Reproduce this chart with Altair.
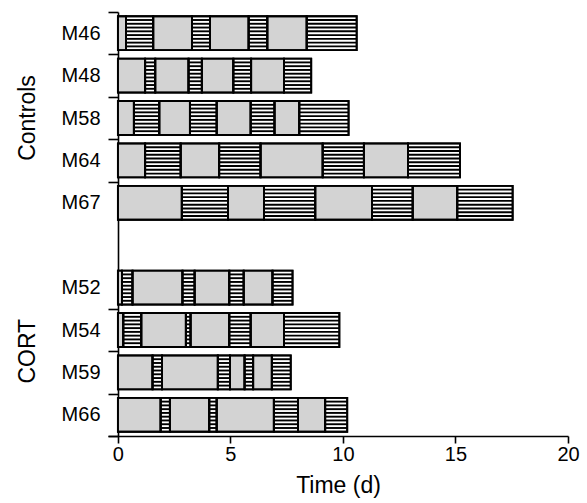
import json
import altair as alt
import pandas as pd

# ---------------- data ----------------
control_ids = ["M46", "M48", "M58", "M64", "M67"]
cort_ids = ["M52", "M54", "M59", "M66"]
group_names = ["Controls", "CORT"]

# end points (days) of consecutive segments; segments alternate gray / hatched,
# the first segment of every animal starts at day 0 and is gray
m46 = [0.36, 1.57, 3.29, 4.09, 5.81, 6.64, 8.39, 10.61]
m48 = [1.21, 1.66, 3.14, 3.73, 5.13, 5.92, 7.38, 8.59]
m58 = [0.71, 1.84, 3.20, 4.39, 5.90, 6.96, 8.06, 10.25]
m64 = [1.21, 2.79, 4.50, 6.34, 9.10, 10.93, 12.89, 15.20]
m67 = [2.84, 4.89, 6.49, 8.77, 11.29, 13.10, 15.08, 17.54]
m52 = [0.18, 0.65, 2.87, 3.41, 4.95, 5.59, 6.87, 7.76]
m54 = [0.24, 1.04, 3.02, 3.23, 4.95, 5.90, 7.38, 9.84]
m59 = [1.54, 1.96, 4.44, 4.98, 5.63, 6.01, 6.84, 7.68]
m66 = [1.90, 2.31, 4.06, 4.39, 6.93, 8.00, 9.21, 10.19]

x_ticks = [0, 5, 10, 15, 20]

boundaries = {"M46": m46, "M48": m48, "M58": m58, "M64": m64, "M67": m67,
              "M52": m52, "M54": m54, "M59": m59, "M66": m66}

# ---------------- layout constants ----------------
FONT = "Liberation Sans"
BAR_HALF = 0.40      # half bar thickness in row units
N_GAPS = 9           # white gaps of the hatching
GRAY = "#d3d3d3"

row_order = control_ids + [""] + cort_ids
n_rows = len(row_order)

seg_rows = []
for idx, name in enumerate(row_order):
    if not name:
        continue
    start = 0.0
    for j, end in enumerate(boundaries[name]):
        seg_rows.append(dict(animal=name, center=idx + 0.5, start=start, end=end,
                             kind="gray" if j % 2 == 0 else "hatch"))
        start = end
segs = pd.DataFrame(seg_rows)
segs["top"] = segs["center"] - BAR_HALF
segs["bottom"] = segs["center"] + BAR_HALF

hatch = segs[segs["kind"] == "hatch"]
stripes = pd.concat([hatch.assign(k=k) for k in range(1, N_GAPS)], ignore_index=True)
stripes["ys"] = stripes["top"] + stripes["k"] * (2 * BAR_HALF / N_GAPS)

# group label positions: middle of each group's rows
ctrl_centers = [row_order.index(a) + 0.5 for a in control_ids]
cort_centers = [row_order.index(a) + 0.5 for a in cort_ids]
groups = pd.DataFrame({"group": group_names,
                       "pos": [sum(ctrl_centers) / len(ctrl_centers),
                               sum(cort_centers) / len(cort_centers)]})

# y axis: ticks at band boundaries, labels at band centres
tick_bounds = [row_order.index(a) for a in control_ids] + \
              [row_order.index(a) + 1 for a in cort_ids]
label_pos = ctrl_centers + cort_centers
y_values = sorted(set(tick_bounds + label_pos))

label_expr = "datum.value % 1 == 0 ? '' : " + json.dumps(row_order) + "[floor(datum.value)]"

x_scale = alt.Scale(domain=[-0.44, 20], nice=False, zero=False)
y_scale = alt.Scale(domain=[0, n_rows], reverse=True, nice=False, zero=False)

x_axis = alt.Axis(values=x_ticks, title="Time (d)", grid=False, tickSize=7,
                  labelFontSize=20, labelPadding=1, labelFlush=False,
                  titleFontSize=23, titleFontWeight="normal", titlePadding=10,
                  labelFont=FONT, titleFont=FONT, labelColor="black",
                  titleColor="black", domainColor="black", tickColor="black",
                  domainWidth=1.6, tickWidth=1.6)
y_axis = alt.Axis(values=y_values, title=None, grid=False, offset=-10,
                  tickSize=10, labelPadding=8, labelFontSize=20,
                  labelExpr=label_expr, labelOverlap=False, labelFont=FONT,
                  labelColor="black", domainColor="black", tickColor="black",
                  domainWidth=1.6, tickWidth=1.6,
                  tickOpacity={"condition": {"test": "datum.value % 1 != 0", "value": 0},
                               "value": 1})

X = lambda f: alt.X(f, scale=x_scale, axis=x_axis)
Y = lambda f: alt.Y(f, scale=y_scale, axis=y_axis)

bars = alt.Chart(segs).mark_rect(stroke="black", strokeWidth=1.8).encode(
    x=X("start:Q"),
    x2="end:Q",
    y=Y("top:Q"),
    y2="bottom:Q",
    fill=alt.Fill("kind:N", scale=alt.Scale(domain=["gray", "hatch"],
                                            range=[GRAY, "white"]), legend=None),
)

lines = alt.Chart(stripes).mark_rule(color="black", strokeWidth=1.9).encode(
    x=X("start:Q"),
    x2="end:Q",
    y=Y("ys:Q"),
)

outline = alt.Chart(segs).mark_rect(stroke="black", strokeWidth=1.9, fillOpacity=0).encode(
    x=X("start:Q"),
    x2="end:Q",
    y=Y("top:Q"),
    y2="bottom:Q",
)

group_text = alt.Chart(groups).mark_text(angle=270, fontSize=23, font=FONT,
                                         align="center", baseline="middle",
                                         color="black").encode(
    x=alt.value(-80),
    y=Y("pos:Q"),
    text="group:N",
)

chart = alt.layer(bars, lines, outline, group_text).properties(
    width=460, height=424,
    autosize=alt.AutoSizeParams(type="none"),
    padding={"left": 108, "top": 12, "right": 19, "bottom": 67},
    background="white",
).configure_view(stroke=None)

chart.save("out.html", embed_options={"renderer": "svg", "actions": False})
